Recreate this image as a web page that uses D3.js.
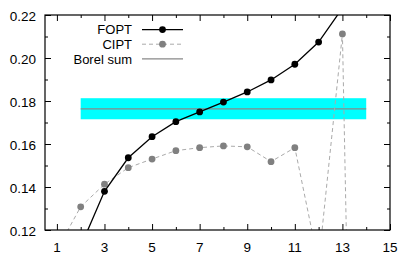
<!DOCTYPE html>
<html>
<head>
<meta charset="utf-8">
<script src="https://cdn.jsdelivr.net/npm/d3@7/dist/d3.min.js"></script>
<style>
body { margin: 0; background: #fff; }
text { font-family: "Liberation Sans", Arial, sans-serif; }
</style>
</head>
<body>
<svg id="chart" width="399" height="260"></svg>
<script>
// orders for each series
let foptOrders = [2, 3, 4, 5, 6, 7, 8, 9, 10, 11, 12, 13];
let foptValues = [0.1123, 0.1380, 0.1536, 0.1634, 0.1704, 0.1749, 0.1795, 0.1842, 0.1898, 0.1971, 0.2074, 0.2232];

let ciptOrders = [1, 2, 3, 4, 5, 6, 7, 8, 9, 10, 11, 12, 13, 14];
let ciptValues = [0.1107, 0.1308, 0.1413, 0.1490, 0.1530, 0.1569, 0.1583, 0.1591, 0.1587, 0.1518, 0.1583, 0.1045, 0.2112, -0.35];

let borelRange = [2, 14];
let borelValue = 0.1763;
let borelBand = [0.1715, 0.1813];

let xTicks = [1, 3, 5, 7, 9, 11, 13, 15];
let xMinor = [2, 4, 6, 8, 10, 12, 14];
let yTicks = [0.12, 0.14, 0.16, 0.18, 0.20, 0.22];
let yMinor = [0.13, 0.15, 0.17, 0.19, 0.21];

let legendNames = ["FOPT", "CIPT", "Borel sum"];

let plotLeft = 45, plotRight = 390, plotTop = 15, plotBottom = 230;

let svg = d3.select("#chart");

let x = d3.scaleLinear().domain([0.5, 15]).range([plotLeft, plotRight]);
let y = d3.scaleLinear().domain([0.12, 0.22]).range([plotBottom, plotTop]);

svg.append("clipPath").attr("id", "clip")
    .append("rect")
    .attr("x", plotLeft).attr("y", plotTop)
    .attr("width", plotRight - plotLeft).attr("height", plotBottom - plotTop);

let plot = svg.append("g").attr("clip-path", "url(#clip)");

// error band of the Borel sum
plot.append("rect")
    .attr("x", x(borelRange[0]))
    .attr("y", y(borelBand[1]))
    .attr("width", x(borelRange[1]) - x(borelRange[0]))
    .attr("height", y(borelBand[0]) - y(borelBand[1]))
    .attr("fill", "#00ffff");

plot.append("line")
    .attr("x1", x(borelRange[0])).attr("x2", x(borelRange[1]))
    .attr("y1", y(borelValue)).attr("y2", y(borelValue))
    .attr("stroke", "#888").attr("stroke-width", 1.2);

let fopt = foptOrders.map((o, i) => [o, foptValues[i]]);
let cipt = ciptOrders.map((o, i) => [o, ciptValues[i]]);

let line = d3.line().x(d => x(d[0])).y(d => y(d[1]));

plot.append("path").datum(cipt)
    .attr("d", line)
    .attr("fill", "none")
    .attr("stroke", "#aaa")
    .attr("stroke-width", 1)
    .attr("stroke-dasharray", "4,3");

plot.selectAll(".cipt").data(cipt).enter()
    .append("circle")
    .attr("cx", d => x(d[0]))
    .attr("cy", d => y(d[1]))
    .attr("r", 3.4)
    .attr("fill", "#808080");

plot.append("path").datum(fopt)
    .attr("d", line)
    .attr("fill", "none")
    .attr("stroke", "#000")
    .attr("stroke-width", 1.3);

plot.selectAll(".fopt").data(fopt).enter()
    .append("circle")
    .attr("cx", d => x(d[0]))
    .attr("cy", d => y(d[1]))
    .attr("r", 3.4)
    .attr("fill", "#000");

// axes, ticks pointing inward on all four sides
function tickAxis(axis, pos)
{
    let g = svg.append("g").attr("transform", pos);
    g.call(axis);
    g.select(".domain").remove();
    g.selectAll("text").remove();
    g.selectAll("line").attr("stroke", "#000");
    return g;
}

tickAxis(d3.axisBottom(x).tickValues(xTicks).tickSize(-6), `translate(0,${plotBottom})`);
tickAxis(d3.axisBottom(x).tickValues(xMinor).tickSize(-3), `translate(0,${plotBottom})`);
tickAxis(d3.axisTop(x).tickValues(xTicks).tickSize(-6), `translate(0,${plotTop})`);
tickAxis(d3.axisTop(x).tickValues(xMinor).tickSize(-3), `translate(0,${plotTop})`);
tickAxis(d3.axisLeft(y).tickValues(yTicks).tickSize(-6), `translate(${plotLeft},0)`);
tickAxis(d3.axisLeft(y).tickValues(yMinor).tickSize(-3), `translate(${plotLeft},0)`);
tickAxis(d3.axisRight(y).tickValues(yTicks).tickSize(-6), `translate(${plotRight},0)`);
tickAxis(d3.axisRight(y).tickValues(yMinor).tickSize(-3), `translate(${plotRight},0)`);

svg.append("rect")
    .attr("x", plotLeft).attr("y", plotTop)
    .attr("width", plotRight - plotLeft).attr("height", plotBottom - plotTop)
    .attr("fill", "none").attr("stroke", "#000").attr("stroke-width", 1.2);

// tick labels
svg.selectAll(".xlab").data(xTicks).enter()
    .append("text")
    .attr("x", d => x(d))
    .attr("y", 252)
    .attr("text-anchor", "middle")
    .attr("font-size", 13.5)
    .text(d => d);

svg.selectAll(".ylab").data(yTicks).enter()
    .append("text")
    .attr("x", 36)
    .attr("y", d => y(d) + 5.8)
    .attr("text-anchor", "end")
    .attr("font-size", 13.5)
    .text(d => d.toFixed(2));

// legend
let legend = svg.append("g");
let legendY = [29.6, 44.2, 58.8];

legend.selectAll("text").data(legendNames).enter()
    .append("text")
    .attr("x", 132)
    .attr("y", (d, i) => legendY[i] + 4.8)
    .attr("text-anchor", "end")
    .attr("font-size", 13)
    .text(d => d);

legend.append("line")
    .attr("x1", 142).attr("x2", 183).attr("y1", legendY[0]).attr("y2", legendY[0])
    .attr("stroke", "#000").attr("stroke-width", 1.3);
legend.append("circle").attr("cx", 162.5).attr("cy", legendY[0]).attr("r", 3.4).attr("fill", "#000");

legend.append("line")
    .attr("x1", 142).attr("x2", 183).attr("y1", legendY[1]).attr("y2", legendY[1])
    .attr("stroke", "#aaa").attr("stroke-width", 1).attr("stroke-dasharray", "4,3");
legend.append("circle").attr("cx", 162.5).attr("cy", legendY[1]).attr("r", 3.4).attr("fill", "#808080");

legend.append("line")
    .attr("x1", 142).attr("x2", 183).attr("y1", legendY[2]).attr("y2", legendY[2])
    .attr("stroke", "#888").attr("stroke-width", 1.2);
</script>
</body>
</html>
